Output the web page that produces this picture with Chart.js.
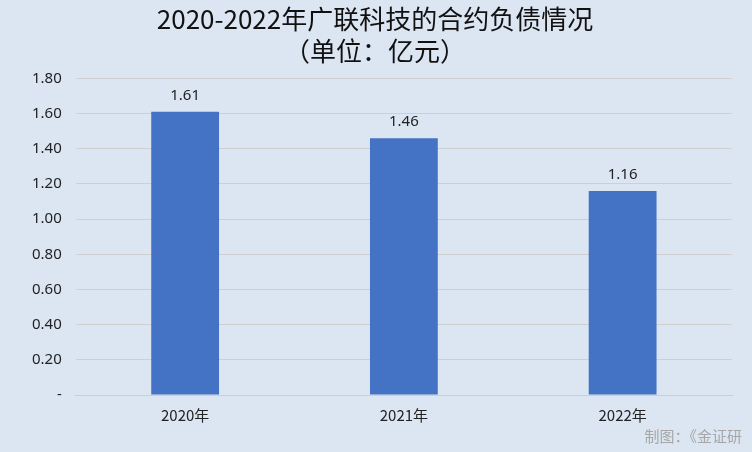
<!DOCTYPE html>
<html>
<head>
<meta charset="utf-8">
<script src="https://cdn.jsdelivr.net/npm/chart.js@4"></script>
<style>
  html, body { margin: 0; padding: 0; background: #dce6f2; }
  #wrap { width: 752px; height: 452px; position: relative; }
</style>
</head>
<body>
<div id="wrap"><canvas id="c" width="752" height="452"></canvas></div>
<script>
const years  = ['2020年', '2021年', '2022年'];
const values = [1.61, 1.46, 1.16];
const titleLines = ['2020-2022年广联科技的合约负债情况', '（单位：亿元）'];
const note = '制图：《金证研';

// value labels above bars + watermark
const labelPlugin = {
  id: 'labels',
  afterDatasetsDraw(chart) {
    const ctx = chart.ctx;
    ctx.save();
    ctx.fillStyle = '#222';
    ctx.font = '15px "Noto Sans", sans-serif';
    ctx.textAlign = 'center';
    chart.getDatasetMeta(0).data.forEach((bar, i) => {
      ctx.fillText(values[i].toFixed(2), bar.x, bar.y - 12);
    });
    ctx.fillStyle = '#a6a6a6';
    ctx.font = '15px "Noto Sans CJK SC", sans-serif';
    ctx.textAlign = 'right';
    ctx.fillText(note, 742, 442);
    ctx.restore();
  }
};

new Chart(document.getElementById('c'), {
  type: 'bar',
  data: {
    labels: years,
    datasets: [{
      data: values,
      backgroundColor: '#4472c4',
      barPercentage: 0.31,
      categoryPercentage: 1
    }]
  },
  options: {
    responsive: false,
    animation: false,
    layout: { padding: { left: 18, right: 20, top: 2, bottom: 25 } },
    plugins: {
      legend: { display: false },
      tooltip: { enabled: false },
      title: {
        display: true,
        text: titleLines,
        color: '#111',
        font: { size: 26, family: '"Noto Sans CJK SC", sans-serif', weight: 'normal' },
        padding: { top: 2, bottom: 12 },
        lineHeight: 1.45
      }
    },
    scales: {
      x: {
        grid: { display: false },
        border: { color: '#cfcfcf' },
        ticks: { color: '#222', font: { size: 15, family: '"Noto Sans CJK SC", sans-serif' } }
      },
      y: {
        min: 0, max: 1.8,
        ticks: {
          stepSize: 0.2,
          color: '#222',
          padding: 14,
          font: { size: 15, family: '"Noto Sans", sans-serif' },
          callback: v => v === 0 ? '-' : v.toFixed(2)
        },
        grid: { color: '#cfcfcf', drawTicks: false },
        border: { display: false }
      }
    }
  },
  plugins: [labelPlugin]
});
</script>
</body>
</html>
